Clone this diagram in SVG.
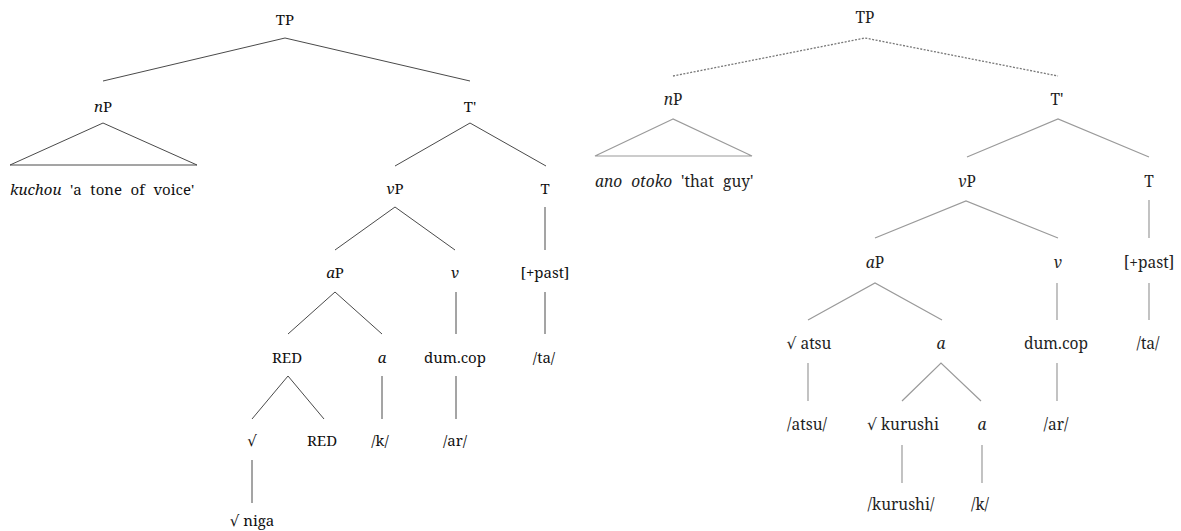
<svg xmlns="http://www.w3.org/2000/svg" width="1181" height="531" viewBox="0 0 1181 531">
  <style>
    text { font-family: "Noto Serif", "DejaVu Serif", serif; font-size: 15px; text-anchor: middle; fill: #111; }
    .r text { fill: #1e1e1e; font-size: 15.5px; }
    .it { font-style: italic; }
    .phrase { text-anchor: start; word-spacing: 4.7px; }
    .r .phrase { word-spacing: 5px; }
    .el { stroke: #4a4a4a; stroke-width: 1; fill: none; }
    .er { stroke: #9a9a9a; stroke-width: 1.2; fill: none; }
    .dot { stroke: #777; stroke-width: 1.3; stroke-dasharray: 2 1.5; fill: none; }
  </style>
  <rect width="1181" height="531" fill="#fff"/>

  <!-- connectors -->
  <g id="connectors">
    <!-- left tree -->
    <polyline class="el" points="103,81 285,38 470,81"/>
    <polygon class="el" points="103,123 10,165 197,165"/>
    <polyline class="el" points="395,166 470,123 546,166"/>
    <polyline class="el" points="335,250 395,207 455,250"/>
    <line class="el" x1="545" y1="207" x2="545" y2="250"/>
    <polyline class="el" points="288,334 335,292 382,334"/>
    <line class="el" x1="456" y1="292" x2="456" y2="334"/>
    <line class="el" x1="545" y1="292" x2="545" y2="334"/>
    <polyline class="el" points="252,419 288,376 324,419"/>
    <line class="el" x1="382" y1="376" x2="382" y2="419"/>
    <line class="el" x1="456" y1="376" x2="456" y2="419"/>
    <line class="el" x1="252" y1="460" x2="252" y2="503"/>
    <!-- right tree -->
    <polyline class="dot" points="673,76 865,38 1058,76"/>
    <polygon class="er" points="673,119 595,156 752,156"/>
    <polyline class="er" points="967,157 1058,119 1149,157"/>
    <polyline class="er" points="875,238 966,201 1058,238"/>
    <line class="er" x1="1149" y1="200" x2="1149" y2="238"/>
    <polyline class="er" points="808,320 875,283 942,320"/>
    <line class="er" x1="1057" y1="283" x2="1057" y2="320"/>
    <line class="er" x1="1149" y1="283" x2="1149" y2="320"/>
    <line class="er" x1="808" y1="363" x2="808" y2="401"/>
    <polyline class="er" points="902,401 941,363 981,401"/>
    <line class="er" x1="1057" y1="363" x2="1057" y2="401"/>
    <line class="er" x1="902" y1="445" x2="902" y2="483"/>
    <line class="er" x1="982" y1="445" x2="982" y2="483"/>
  </g>

  <!-- left tree nodes -->
  <g id="left-tree">
    <g id="l-TP"><text x="285" y="25">TP</text></g>
    <g id="l-nP"><text x="103" y="112"><tspan class="it">n</tspan>P</text></g>
    <g id="l-kuchou"><text class="phrase" x="10" y="195"><tspan class="it">kuchou</tspan> 'a tone of voice'</text></g>
    <g id="l-Tbar"><text x="470" y="112">T'</text></g>
    <g id="l-vP"><text x="395" y="194"><tspan class="it">v</tspan>P</text></g>
    <g id="l-T"><text x="545" y="194">T</text></g>
    <g id="l-aP"><text x="335" y="278"><tspan class="it">a</tspan>P</text></g>
    <g id="l-v"><text class="it" x="455" y="278">v</text></g>
    <g id="l-past"><text x="545" y="278">[+past]</text></g>
    <g id="l-RED"><text x="287" y="363">RED</text></g>
    <g id="l-a"><text class="it" x="382" y="363">a</text></g>
    <g id="l-dumcop"><text x="455" y="363">dum.cop</text></g>
    <g id="l-ta"><text x="544" y="363">/ta/</text></g>
    <g id="l-root"><text x="252" y="446">√</text></g>
    <g id="l-RED2"><text x="322" y="446">RED</text></g>
    <g id="l-k"><text x="380" y="446">/k/</text></g>
    <g id="l-ar"><text x="455" y="446">/ar/</text></g>
    <g id="l-niga"><text x="252" y="526">√ niga</text></g>
  </g>

  <!-- right tree nodes -->
  <g id="right-tree" class="r">
    <g id="r-TP"><text x="865" y="23">TP</text></g>
    <g id="r-nP"><text x="673" y="105"><tspan class="it">n</tspan>P</text></g>
    <g id="r-anootoko"><text class="phrase" x="595" y="187"><tspan class="it">ano</tspan> <tspan class="it">otoko</tspan> 'that guy'</text></g>
    <g id="r-Tbar"><text x="1057" y="105">T'</text></g>
    <g id="r-vP"><text x="967" y="187"><tspan class="it">v</tspan>P</text></g>
    <g id="r-T"><text x="1149" y="187">T</text></g>
    <g id="r-aP"><text x="875" y="268"><tspan class="it">a</tspan>P</text></g>
    <g id="r-v"><text class="it" x="1058" y="268">v</text></g>
    <g id="r-past"><text x="1149" y="268">[+past]</text></g>
    <g id="r-atsu"><text x="809" y="349">√ atsu</text></g>
    <g id="r-a"><text class="it" x="941" y="349">a</text></g>
    <g id="r-dumcop"><text x="1056" y="349">dum.cop</text></g>
    <g id="r-ta"><text x="1148" y="349">/ta/</text></g>
    <g id="r-atsu-ph"><text x="807" y="430">/atsu/</text></g>
    <g id="r-kurushi"><text x="903" y="430">√ kurushi</text></g>
    <g id="r-a2"><text class="it" x="982" y="430">a</text></g>
    <g id="r-ar"><text x="1056" y="430">/ar/</text></g>
    <g id="r-kurushi-ph"><text x="901" y="510">/kurushi/</text></g>
    <g id="r-k"><text x="980" y="510">/k/</text></g>
  </g>
</svg>
